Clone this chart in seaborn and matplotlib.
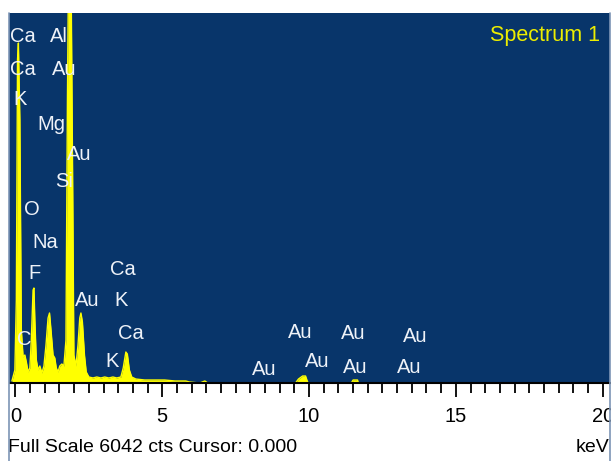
import matplotlib
matplotlib.use("Agg")
import matplotlib.pyplot as plt
from matplotlib.lines import Line2D
from matplotlib.patches import Rectangle
from matplotlib.ticker import MultipleLocator
from matplotlib.transforms import offset_copy
import seaborn as sns

# EDS spectrum: energy (keV) and counts
energy = [-0.12, -0.02, 0.03, 0.07, 0.10, 0.15, 0.20, 0.26, 0.32, 0.37, 0.43, 0.49,
          0.54, 0.60, 0.63, 0.66, 0.71, 0.77, 0.83, 0.90, 0.97, 1.04, 1.11, 1.16,
          1.21, 1.28, 1.34, 1.39, 1.45, 1.51, 1.58, 1.65, 1.72, 1.77, 1.80, 1.90,
          1.94, 1.99, 2.06, 2.13, 2.19, 2.23, 2.28, 2.35, 2.41, 2.50, 2.64, 2.77,
          2.91, 3.04, 3.18, 3.32, 3.45, 3.59, 3.67, 3.76, 3.81, 3.88, 3.96, 4.10,
          4.40, 4.74, 5.08, 5.43, 5.80, 5.93, 6.28, 6.45, 6.55, 9.54, 9.64, 9.78,
          9.88, 9.95, 10.00, 11.44, 11.50, 11.65, 11.68, 20.30]
counts = [33, 212, 1355, 5275, 5552, 4295, 866, 425, 457, 343, 180, 245,
          702, 1519, 1551, 1029, 376, 212, 278, 163, 278, 620, 1061, 1143,
          866, 457, 408, 245, 180, 278, 310, 278, 702, 4621, 6300, 6300,
          3805, 457, 278, 620, 1061, 1143, 996, 457, 180, 98, 82, 98,
          82, 98, 82, 98, 82, 98, 245, 506, 474, 212, 98, 65,
          49, 49, 49, 33, 33, 16, 0, 33, 0, 0, 65, 114,
          114, 16, 0, 0, 49, 49, 0, 0]

# Element line labels: text, energy (keV), height (counts)
label_text = ["Ca", "Al", "Ca", "Au", "K", "Mg", "Au", "Si", "O", "Na", "F", "C",
              "Au", "K", "Ca", "Ca", "K",
              "Au", "Au", "Au", "Au", "Au", "Au", "Au"]
label_kev = [0.26, 1.48, 0.26, 1.66, 0.14, 1.24, 2.16, 1.65, 0.56, 1.00, 0.66, 0.29,
             2.45, 3.59, 3.65, 3.93, 3.28,
             9.70, 11.50, 13.60, 8.47, 10.27, 11.57, 13.40]
label_cts = [5683, 5683, 5144, 5144, 4654, 4246, 3772, 3315, 2858, 2335, 1813, 751,
             1388, 1388, 1878, 833, 376,
             865, 833, 784, 245, 376, 278, 278]

full_scale = 6042
tick_values = [0, 5, 10, 15, 20]

sns.set_theme(style="white")
plt.rcParams["font.family"] = ["Liberation Sans", "DejaVu Sans"]

W, H = 613, 461
fig = plt.figure(figsize=(W / 100, H / 100), dpi=100)
fig.patch.set_facecolor("white")
ax = fig.add_axes([9 / W, 1 - 383 / H, 601 / W, 370 / H])
bg = "#08356a"
ax.set_facecolor(bg)

ax.fill_between(energy, counts, 0, color="#ffff00", linewidth=0, zorder=2)
sns.lineplot(x=energy, y=counts, ax=ax, color="#ffff00", linewidth=1.0,
             sort=False, estimator=None, zorder=3)

# element labels drawn over the trace
label_tf = offset_copy(ax.transData, fig=fig, x=0, y=-2, units="dots")
for t, xk, yc in zip(label_text, label_kev, label_cts):
    ax.text(xk, yc, t, color="#eef2f8", fontsize=14.5, ha="center", va="center",
            zorder=4, clip_on=False, transform=label_tf)

ax.text(0.983, 0.94, "Spectrum 1", transform=ax.transAxes, color="#eded00",
        fontsize=15.5, ha="right", va="center", zorder=4)

ax.set_xlim(-0.22, 20.25)
ax.set_ylim(0, full_scale)
ax.set_xticks(tick_values)
ax.set_xticklabels([str(v) for v in tick_values])
ax.xaxis.set_minor_locator(MultipleLocator(0.5))
ax.set_yticks([])
ax.tick_params(axis="x", which="major", direction="out", length=10, width=1.3,
               color="black", bottom=True, labelsize=14.5, pad=7, labelcolor="black")
ax.tick_params(axis="x", which="minor", direction="out", length=7, width=1.3,
               color="black", bottom=True)
for side in ("top", "left", "right"):
    ax.spines[side].set_visible(False)
ax.spines["bottom"].set_color("black")
ax.spines["bottom"].set_linewidth(1.5)
ax.spines["bottom"].set_zorder(6)
ax.set_xlabel("")
ax.set_ylabel("")

# Window frame at the sides
fig.add_artist(Rectangle((0, 0), 8.5 / W, 1 - 13 / H, transform=fig.transFigure,
                         facecolor="white", edgecolor="none", zorder=10))
fig.add_artist(Rectangle((610.5 / W, 0), 3 / W, 1 - 13 / H, transform=fig.transFigure,
                         facecolor="white", edgecolor="none", zorder=10))
for xp in (9, 610):
    fig.add_artist(Line2D([xp / W, xp / W], [0, 1 - 13 / H], transform=fig.transFigure,
                          color="#7d95b5", linewidth=1.2, zorder=11))

fig.text(8 / W, 1 - 447 / H, "Full Scale 6042 cts Cursor: 0.000", fontsize=14,
         ha="left", va="center", color="black")
fig.text(609 / W, 1 - 447 / H, "keV", fontsize=14, ha="right", va="center",
         color="black")

fig.savefig("out.png", dpi=100, facecolor="white")
